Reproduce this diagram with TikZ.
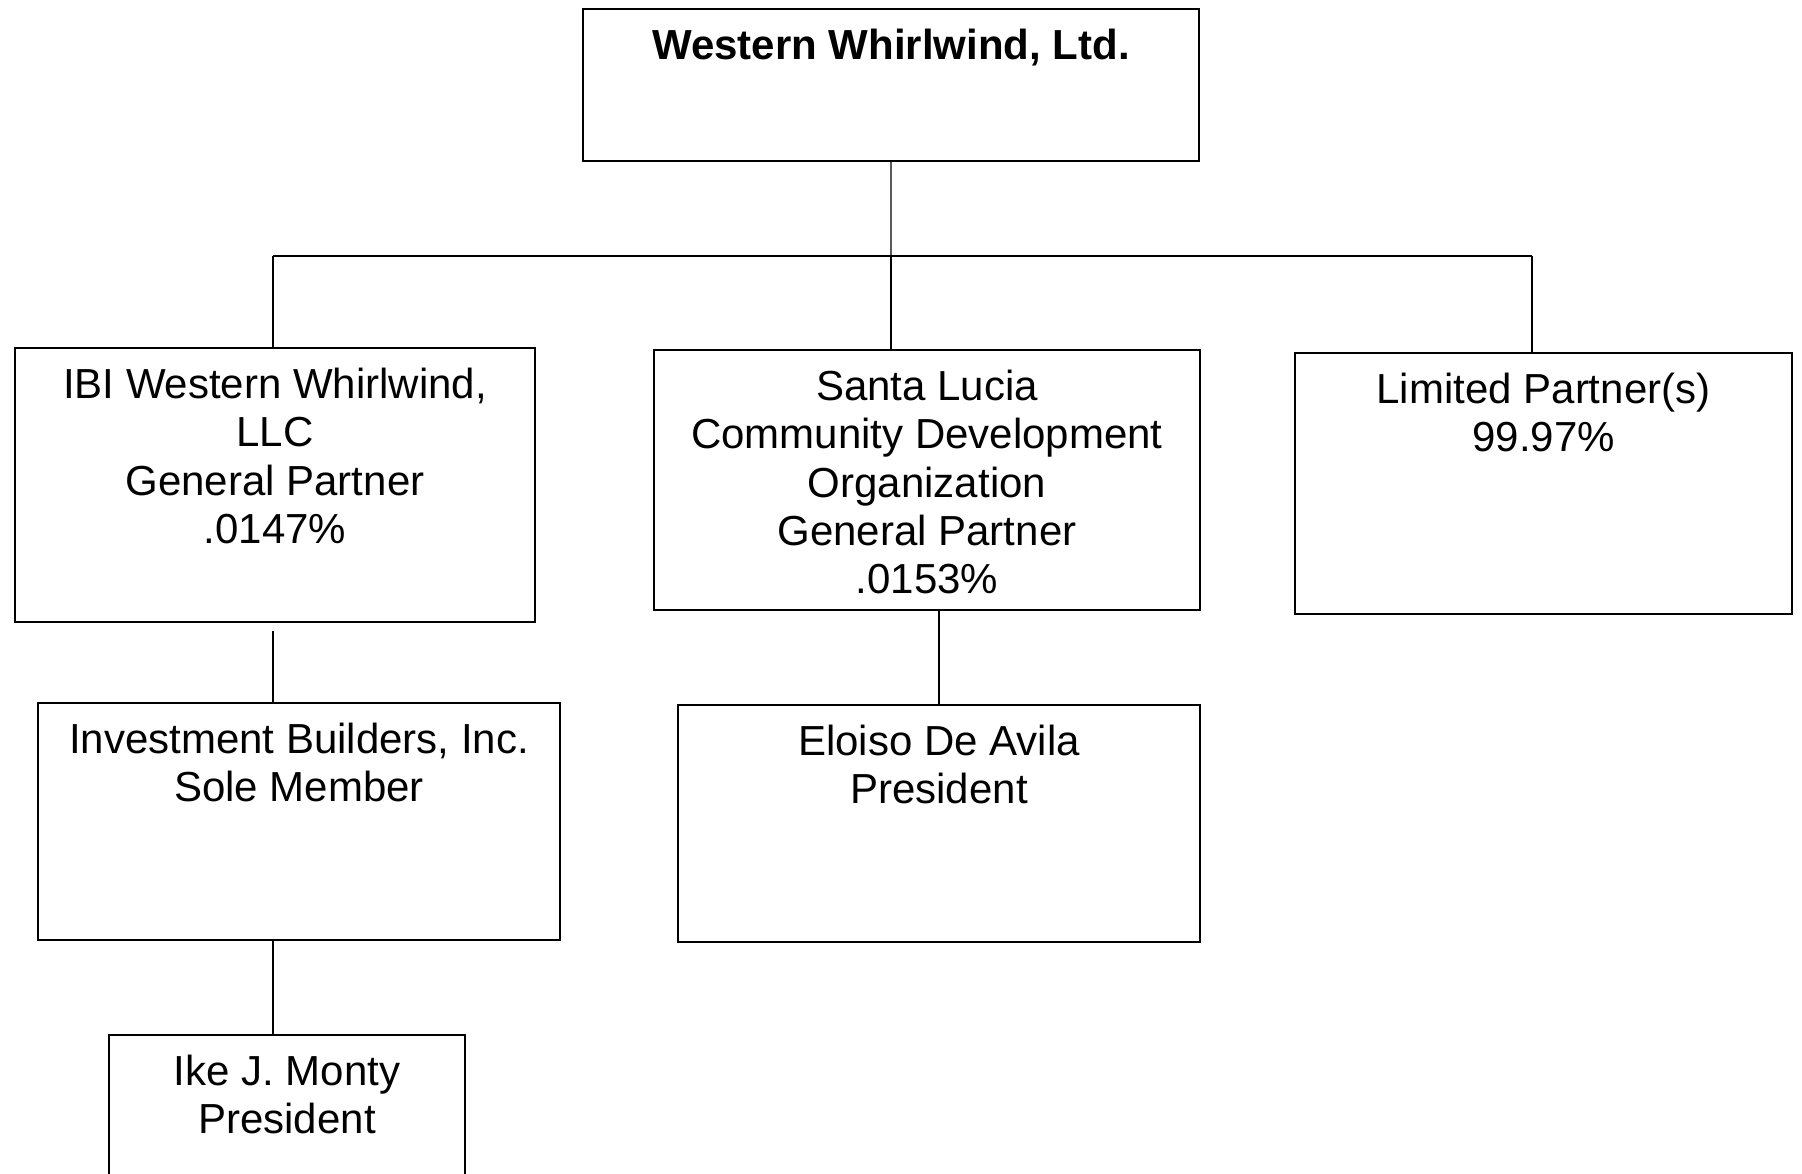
\documentclass[tikz,border=0pt]{standalone}
\usepackage{fontspec}
\setmainfont{Liberation Sans}
\begin{document}
\begin{tikzpicture}[x=1bp,y=-1bp,
  box/.style={draw=black,line width=1.4bp,inner sep=0pt,outer sep=0pt,anchor=north west},
  lbl/.style={align=center,inner sep=0pt,anchor=north,font=\fontsize{42bp}{48.3bp}\selectfont},
  conn/.style={draw=black,line width=1.1bp}]
\useasboundingbox (0,0) rectangle (1802,1173);
\clip (0,0) rectangle (1802,1173);
% boxes
\node[box,minimum width=616bp,minimum height=152bp] (top) at (583,9) {};
\node[box,minimum width=520bp,minimum height=274bp] (ibi) at (15,348) {};
\node[box,minimum width=546bp,minimum height=260bp] (sl) at (654,350) {};
\node[box,minimum width=497bp,minimum height=261bp] (lp) at (1295,353) {};
\node[box,minimum width=522bp,minimum height=237bp] (inv) at (38,703) {};
\node[box,minimum width=522bp,minimum height=237bp] (elo) at (678,705) {};
\node[box,minimum width=356bp,minimum height=160bp] (ike) at (109,1035) {};
% texts
\node[lbl,font=\fontsize{42bp}{48.3bp}\selectfont\bfseries] (ttop) at ([yshift=-16.4bp]top.north) {\strut Western Whirlwind, Ltd.};
\node[lbl] (tibi) at ([yshift=-16.4bp]ibi.north) {\strut IBI Western Whirlwind,\\LLC\\General Partner\\.0147\%};
\node[lbl] (tsl) at ([yshift=-16.4bp]sl.north) {\strut Santa Lucia\\Community Development\\Organization\\General Partner\\.0153\%};
\node[lbl] (tlp) at ([yshift=-16.4bp]lp.north) {\strut Limited Partner(s)\\99.97\%};
\node[lbl] (tinv) at ([yshift=-16.4bp]inv.north) {\strut Investment Builders, Inc.\\Sole Member};
\node[lbl] (telo) at ([yshift=-16.4bp]elo.north) {\strut Eloiso De Avila\\President};
\node[lbl] (tike) at ([yshift=-16.4bp]ike.north) {\strut Ike J. Monty\\President};
% connector points
\coordinate (bus) at (891,256);
\coordinate (bl) at (273,256);
\coordinate (br) at (1532,256);
\coordinate (ibiout) at (273,631);
\coordinate (invout) at (273,940);
% connectors
\draw[conn] (top.south) -- (bus);
\draw[conn] (bl) -- (br);
\draw[conn] (bl) -- (bl |- ibi.north);
\draw[conn] (bus) -- (bus |- sl.north);
\draw[conn] (br) -- (br |- lp.north);
\draw[conn] (ibiout) -- (ibiout |- inv.north);
\draw[conn] (elo.north) -- (elo.north |- sl.south);
\draw[conn] (invout) -- (invout |- ike.north);
\end{tikzpicture}
\end{document}
